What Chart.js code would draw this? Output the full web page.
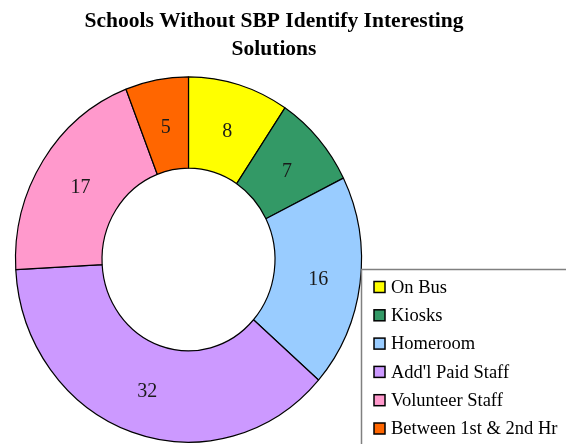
<!DOCTYPE html>
<html>
<head>
<meta charset="utf-8">
<script src="https://cdn.jsdelivr.net/npm/chart.js@4.4.0/dist/chart.umd.min.js"></script>
<style>
    html, body { margin: 0; padding: 0; background: #ffffff; }
    #contenedor { width: 566px; height: 444px; }
</style>
</head>
<body>
<div id="contenedor"><canvas id="grafica" width="566" height="444"></canvas></div>
<script>
// Datos del gráfico
const categorias = ['On Bus', 'Kiosks', 'Homeroom', "Add'l Paid Staff", 'Volunteer Staff', 'Between 1st & 2nd Hr'];
const valores = [8, 7, 16, 32, 17, 5];
const colores = ['#FFFF00', '#339966', '#99CCFF', '#CC99FF', '#FF99CC', '#FF6600'];
const tituloLineas = ['Schools Without SBP Identify Interesting', 'Solutions'];

const FUENTE = '"Liberation Serif", "Times New Roman", serif';
const ESCALA_Y = 1.056; // la dona original es un poco más alta que ancha

// Título dibujado a mano (centrado un poco a la izquierda, como el original)
const tituloPlugin = {
    id: 'tituloPlugin',
    afterDraw(chart) {
        const ctx = chart.ctx;
        ctx.save();
        ctx.fillStyle = '#000000';
        ctx.font = 'bold 21.5px ' + FUENTE;
        ctx.textAlign = 'center';
        ctx.textBaseline = 'alphabetic';
        tituloLineas.forEach((linea, i) => {
            ctx.fillText(linea, 274, 27 + i * 28);
        });
        ctx.restore();
    }
};

// Estira la dona en vertical y escribe los valores encima
const estirarPlugin = {
    id: 'estirarPlugin',
    beforeDatasetsDraw(chart) {
        const arco = chart.getDatasetMeta(0).data[0];
        const ctx = chart.ctx;
        ctx.save();
        ctx.translate(arco.x, arco.y);
        ctx.scale(1, ESCALA_Y);
        ctx.translate(-arco.x, -arco.y);
    },
    afterDatasetsDraw(chart) {
        const ctx = chart.ctx;
        ctx.restore();
        const meta = chart.getDatasetMeta(0);
        ctx.save();
        ctx.fillStyle = '#1a1a1a';
        ctx.font = '20px ' + FUENTE;
        ctx.textAlign = 'center';
        ctx.textBaseline = 'middle';
        meta.data.forEach((arco, i) => {
            const p = arco.tooltipPosition();
            const y = arco.y + (p.y - arco.y) * ESCALA_Y;
            ctx.fillText(String(valores[i]), p.x + 1, y + 3);
        });
        ctx.restore();
    }
};

// Leyenda en la esquina inferior derecha, recortada como en el original
const leyendaPlugin = {
    id: 'leyendaPlugin',
    afterDraw(chart) {
        const ctx = chart.ctx;
        const ds = chart.data.datasets[0];
        ctx.save();
        ctx.fillStyle = '#ffffff';
        ctx.fillRect(362, 270, 300, 300);
        ctx.strokeStyle = '#808080';
        ctx.lineWidth = 1.5;
        ctx.strokeRect(361.5, 269.5, 300, 300);
        ctx.font = '18.5px ' + FUENTE;
        ctx.textAlign = 'left';
        ctx.textBaseline = 'middle';
        chart.data.labels.forEach((etiqueta, i) => {
            const yc = 287 + i * 28.3;
            ctx.fillStyle = ds.backgroundColor[i];
            ctx.fillRect(374, yc - 5.5, 11, 11);
            ctx.strokeStyle = '#000000';
            ctx.lineWidth = 1.5;
            ctx.strokeRect(374, yc - 5.5, 11, 11);
            ctx.fillStyle = '#000000';
            ctx.fillText(etiqueta, 391, yc + 1);
        });
        ctx.restore();
    }
};

const canvas = document.getElementById('grafica');
const ctx = canvas.getContext('2d');

const chart = new Chart(ctx, {
    type: 'doughnut',
    data: {
        labels: categorias,
        datasets: [{
            data: valores,
            backgroundColor: colores,
            borderColor: '#000000',
            borderWidth: 1.2,
            clip: false
        }]
    },
    options: {
        responsive: false,
        animation: false,
        devicePixelRatio: 1,
        radius: 173,
        cutout: '50%',
        layout: {
            padding: { left: 0, right: 189, top: 75, bottom: 0 }
        },
        plugins: {
            legend: { display: false },
            title: { display: false },
            tooltip: { enabled: false }
        }
    },
    plugins: [estirarPlugin, tituloPlugin, leyendaPlugin]
});
</script>
</body>
</html>
